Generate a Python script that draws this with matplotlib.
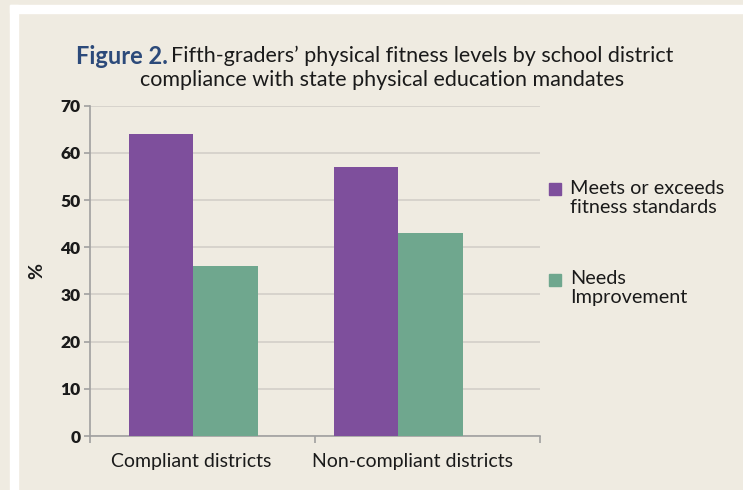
import matplotlib
matplotlib.use("Agg")
import matplotlib.pyplot as plt
import numpy as np
from matplotlib.patches import Rectangle

categories = ["Compliant districts", "Non-compliant districts"]
series_names = ["Meets or exceeds\nfitness standards", "Needs\nImprovement"]
meets = [64, 57]
needs = [36, 43]
yticks = [0, 10, 20, 30, 40, 50, 60, 70]

purple = "#7e4f9c"
green = "#6fa78e"
beige = "#efebe1"
blue = "#2c4a7a"
dark = "#1a1a1a"

plt.rcParams['font.family'] = ['Lato', 'DejaVu Sans']

fig = plt.figure(figsize=(7.43, 4.90), dpi=100)
fig.patch.set_facecolor(beige)
# white frame strips
fig.add_artist(Rectangle((10/743, 0), 8/743, 1 - 5/490, transform=fig.transFigure, color="white", zorder=0))
fig.add_artist(Rectangle((10/743, 1 - 13/490), 1, 8/490, transform=fig.transFigure, color="white", zorder=0))

ax = fig.add_axes([90/743, 54/490, (540-90)/743, (436-105.7)/490])
ax.set_facecolor(beige)

# group centres sit at x=0 and x=1 (205 px apart); axis spans 90..540 px
unit = 205.0
x = np.arange(len(categories))
w = 64.5 / unit
ax.bar(x - w/2, meets, width=w, color=purple, zorder=3)
ax.bar(x + w/2, needs, width=w, color=green, zorder=3)

x0 = -(193 - 90) / unit
x1 = (540 - 193) / unit
ax.set_xlim(x0, x1)
ax.set_ylim(0, 70)
ax.set_yticks(yticks)
ax.set_yticklabels([str(t) for t in yticks], fontsize=12.5, fontweight='heavy', color=dark)
label_pos = [(191 - 193) / unit, (412 - 193) / unit]
ax.set_xticks(label_pos)
ax.set_xticklabels(categories, fontsize=14, color=dark)
ax.set_xticks([x0, (315 - 193) / unit, x1], minor=True)
ax.tick_params(axis='x', which='major', length=0, pad=12)
ax.tick_params(axis='x', which='minor', length=5, color="#a0a0a0", width=1.2)
ax.tick_params(axis='y', length=4, color="#a0a0a0", width=1.2, pad=3)
ax.grid(axis='y', color="#d3cfc8", linewidth=1.2, zorder=0)
for s in ['top', 'right']:
    ax.spines[s].set_visible(False)
for s in ['left', 'bottom']:
    ax.spines[s].set_color("#a0a0a0")
    ax.spines[s].set_linewidth(1.2)
ax.set_ylabel("%", fontsize=14, color=dark, fontweight='bold')
ax.yaxis.set_label_coords((45 - 90) / 450, 0.5)

# title
fig.text(76/743, 1 - 56/490, "Figure 2.", fontsize=17, fontweight='bold', color=blue, ha="left", va="center")
fig.text(171/743, 1 - 56/490, "Fifth-graders\u2019 physical fitness levels by school district",
         fontsize=15.5, color=dark, ha="left", va="center")
fig.text(382/743, 1 - 80/490, "compliance with state physical education mandates",
         fontsize=15.5, color=dark, ha="center", va="center")

# legend
leg_y = [189.5, 279.5]
for name, col, yy in zip(series_names, [purple, green], leg_y):
    fig.add_artist(Rectangle((549/743, 1 - (yy + 6)/490), 12/743, 12/490,
                             transform=fig.transFigure, color=col))
    fig.text(570/743, 1 - (yy - 10)/490, name, fontsize=14.3, color=dark,
             ha="left", va="top", linespacing=1.15)

fig.savefig("out.png", dpi=100, facecolor=beige)
